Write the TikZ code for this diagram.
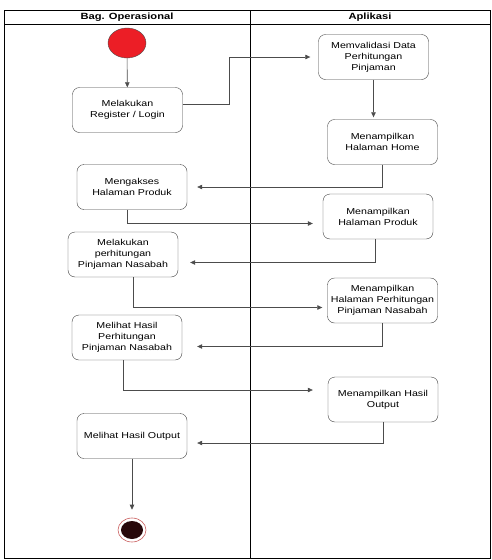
\documentclass[tikz,border=0pt]{standalone}
\usepackage{fontspec}
\setmainfont{Liberation Sans}[FakeStretch=1.24]
\usepackage{tikz}
\usetikzlibrary{arrows.meta, shapes.geometric}
\definecolor{startred}{RGB}{236,30,38}
\definecolor{endring}{RGB}{200,90,90}
\definecolor{enddot}{RGB}{40,8,10}

\begin{document}
\begin{tikzpicture}[x=1pt, y=-1pt, >={Triangle[length=5pt, width=4.5pt]},
  act/.style={draw=black!75, rounded corners=7pt, minimum width=110pt,
    minimum height=45pt, align=center, inner sep=1pt,
    font=\fontsize{8.6}{11}\selectfont},
  flow/.style={->, draw=black!70, line width=0.6pt, shorten >=10pt}]
  \useasboundingbox (0,0) rectangle (492,560);

  % swimlanes
  \draw[line width=0.9pt] (4,10) rectangle (490,558);
  \draw[line width=0.9pt] (4,24) -- (490,24);
  \draw[line width=0.9pt] (250,10) -- (250,558);
  \node[font=\fontsize{9}{11}\selectfont\bfseries] (laneops) at (127,17) {Bag. Operasional};
  \node[font=\fontsize{9}{11}\selectfont\bfseries] (laneapp) at (370,17) {Aplikasi};

  % start / end
  \node[ellipse, draw=black!70, fill=startred, minimum width=38pt, minimum height=30pt] (start) at (127,43) {};
  \node[ellipse, draw=endring, line width=0.6pt, fill=white, minimum width=28pt, minimum height=24pt] (end) at (132,530) {};
  \node[ellipse, fill=enddot, minimum width=22pt, minimum height=18pt] (enddot) at (end) {};

  % activities
  \node[act] (reg) at (127.5,110) {Melakukan\\Register / Login};
  \node[act] (val) at (373.5,57) {Memvalidasi Data\\Perhitungan\\Pinjaman};
  \node[act] (home) at (382.5,142) {Menampilkan\\Halaman Home};
  \node[act] (akses) at (132,187) {Mengakses\\Halaman Produk};
  \node[act] (produk) at (378,216.5) {Menampilkan\\Halaman Produk};
  \node[act] (hitung) at (123,254.5) {Melakukan\\perhitungan\\Pinjaman Nasabah};
  \node[act] (tampilhitung) at (382.5,300.5) {Menampilkan\\Halaman Perhitungan\\Pinjaman Nasabah};
  \node[act] (hasilhitung) at (127,337.5) {Melihat Hasil\\Perhitungan\\Pinjaman Nasabah};
  \node[act] (tampiloutput) at (383,399.5) {Menampilkan Hasil\\Output};
  \node[act] (output) at (132,436) {Melihat Hasil Output};

  % flows
  \draw[flow, shorten >=0pt] (start) -- (reg);
  \draw[flow, shorten >=8pt] ([yshift=6pt]reg.east) -- ++(47,0) |- (val.west);
  \draw[flow, shorten >=2pt] (val.south) -- (val.south |- home.north);
  \draw[flow] (home.south) |- (akses.east);
  \draw[flow] ([xshift=-5pt]akses.south) |- ([yshift=-7pt]produk.west);
  \draw[flow, shorten >=12pt] ([xshift=-3pt]produk.south) |- ([yshift=-8pt]hitung.east);
  \draw[flow, shorten >=5pt] ([xshift=10pt]hitung.south) |- ([yshift=-7pt]tampilhitung.west);
  \draw[flow, shorten >=15pt] (tampilhitung.south) |- ([yshift=-9pt]hasilhitung.east);
  \draw[flow, shorten >=15pt] ([xshift=-4pt]hasilhitung.south) |- ([yshift=9.5pt]tampiloutput.west);
  \draw[flow] (tampiloutput.south) |- ([yshift=-7pt]output.east);
  \draw[flow, shorten >=8pt] (output) -- (end);
\end{tikzpicture}
\end{document}
